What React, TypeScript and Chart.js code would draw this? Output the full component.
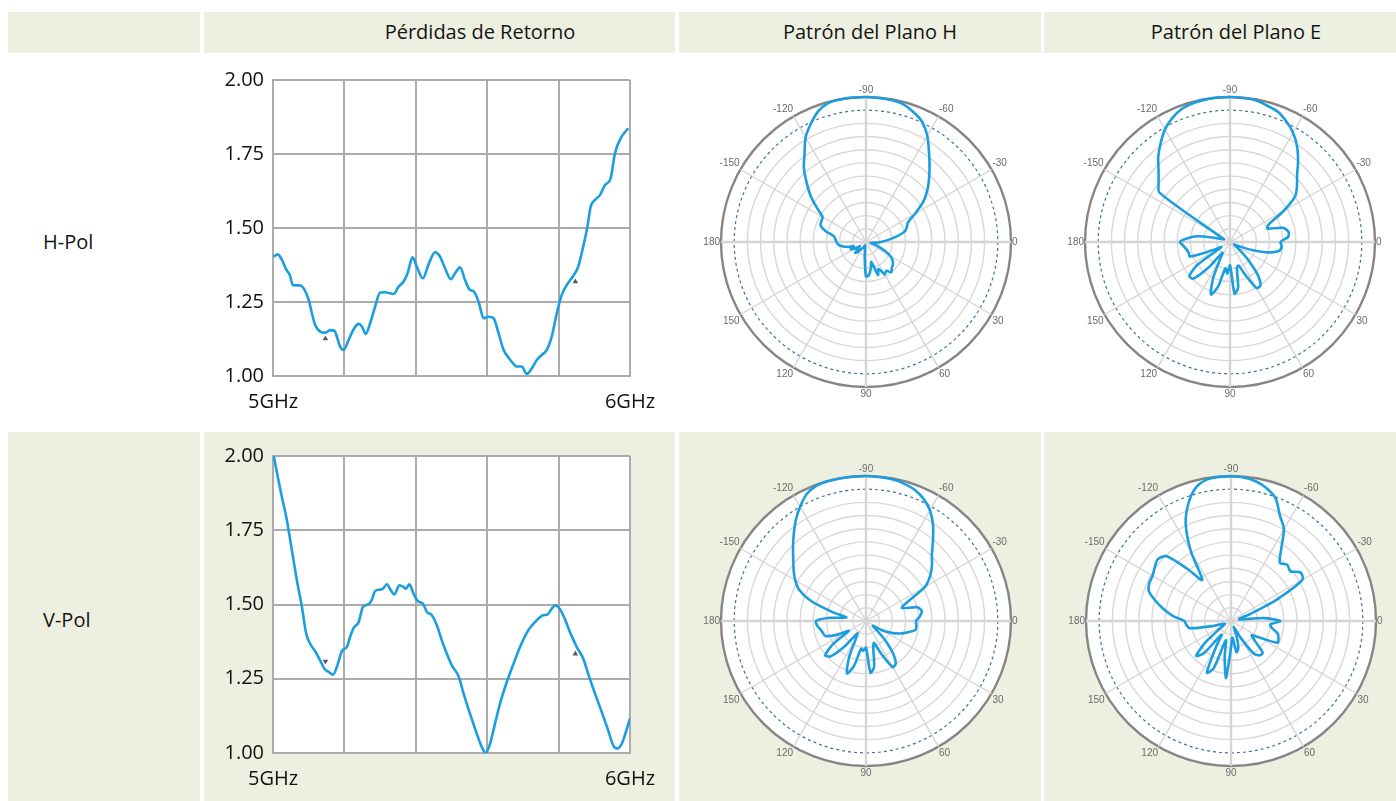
import React, { useEffect, useRef } from 'react';
import { Chart, registerables } from 'chart.js';

Chart.register(...registerables);

// ---------- Return loss (VSWR) data ----------
const FREQ_H = [5.002, 5.013, 5.025, 5.037, 5.047, 5.056, 5.076, 5.086, 5.1, 5.109, 5.118, 5.132, 5.146, 5.16, 5.172, 5.179, 5.188, 5.198, 5.212, 5.226, 5.24, 5.249, 5.26, 5.272, 5.286, 5.3, 5.314, 5.338, 5.352, 5.366, 5.377, 5.391, 5.403, 5.42, 5.436, 5.454, 5.468, 5.482, 5.498, 5.51, 5.524, 5.538, 5.55, 5.563, 5.576, 5.59, 5.604, 5.618, 5.632, 5.646, 5.66, 5.674, 5.681, 5.697, 5.711, 5.725, 5.739, 5.753, 5.767, 5.781, 5.795, 5.809, 5.823, 5.841, 5.855, 5.869, 5.881, 5.89, 5.902, 5.916, 5.93, 5.946, 5.958, 5.974, 5.995];
const VSWR_H = [1.403, 1.411, 1.392, 1.36, 1.341, 1.307, 1.306, 1.296, 1.257, 1.212, 1.172, 1.15, 1.146, 1.155, 1.153, 1.133, 1.099, 1.088, 1.122, 1.158, 1.176, 1.167, 1.142, 1.178, 1.234, 1.282, 1.283, 1.277, 1.302, 1.319, 1.347, 1.401, 1.369, 1.33, 1.378, 1.418, 1.403, 1.364, 1.327, 1.347, 1.367, 1.324, 1.293, 1.285, 1.251, 1.195, 1.2, 1.195, 1.144, 1.088, 1.062, 1.041, 1.032, 1.032, 1.007, 1.026, 1.054, 1.071, 1.088, 1.133, 1.212, 1.274, 1.307, 1.338, 1.369, 1.437, 1.505, 1.572, 1.595, 1.611, 1.645, 1.668, 1.752, 1.803, 1.837];

const FREQ_V = [5.002, 5.021, 5.039, 5.053, 5.067, 5.081, 5.093, 5.104, 5.118, 5.132, 5.144, 5.156, 5.168, 5.179, 5.193, 5.207, 5.216, 5.226, 5.24, 5.252, 5.268, 5.277, 5.286, 5.3, 5.308, 5.319, 5.33, 5.34, 5.354, 5.366, 5.372, 5.382, 5.394, 5.405, 5.42, 5.431, 5.445, 5.459, 5.473, 5.487, 5.501, 5.52, 5.534, 5.552, 5.571, 5.585, 5.596, 5.608, 5.622, 5.636, 5.655, 5.674, 5.692, 5.715, 5.734, 5.757, 5.769, 5.781, 5.79, 5.799, 5.813, 5.832, 5.851, 5.869, 5.883, 5.902, 5.921, 5.939, 5.953, 5.965, 5.977, 6.0];
const VSWR_V = [2.0, 1.884, 1.783, 1.682, 1.581, 1.492, 1.402, 1.368, 1.343, 1.312, 1.284, 1.273, 1.264, 1.29, 1.343, 1.357, 1.391, 1.421, 1.441, 1.492, 1.501, 1.516, 1.545, 1.55, 1.553, 1.568, 1.548, 1.534, 1.565, 1.559, 1.553, 1.568, 1.536, 1.512, 1.503, 1.475, 1.464, 1.43, 1.379, 1.334, 1.295, 1.258, 1.2, 1.132, 1.065, 1.02, 1.0, 1.031, 1.099, 1.166, 1.239, 1.301, 1.357, 1.413, 1.441, 1.464, 1.466, 1.486, 1.497, 1.492, 1.464, 1.407, 1.357, 1.318, 1.267, 1.2, 1.138, 1.076, 1.026, 1.015, 1.031, 1.116];

const MARK_H_X = [5.147, 5.847];
const MARK_H_Y = [1.126, 1.319];
const MARK_H_ROT = [0, 0];
const MARK_V_X = [5.147, 5.847];
const MARK_V_Y = [1.309, 1.334];
const MARK_V_ROT = [180, 0];

const FREQ_TICKS = ['5GHz', '6GHz'];
const VSWR_MIN = 1;
const VSWR_MAX = 2;

// ---------- Radiation pattern data (dB, normalized) ----------
const ANGLES = [-90, -85, -80, -75, -70, -65, -60, -55, -50, -45, -40, -35, -30, -25, -20, -15, -10, -5, 0, 5, 10, 15, 20, 25, 30, 35, 40, 45, 50, 55, 60, 65, 70, 75, 80, 85, 90, 95, 100, 105, 110, 115, 120, 125, 130, 135, 140, 145, 150, 155, 160, 165, 170, 175, 180, -175, -170, -165, -160, -155, -150, -145, -140, -135, -130, -125, -120, -115, -110, -105, -100, -95];

const H_POL_H_PLANE = [0, -0.1, -0.2, -0.5, -1.5, -2.8, -5.1, -8.0, -10.5, -12.7, -14.8, -17.1, -20.1, -22.5, -23.1, -23.9, -26.0, -28.1, -29.6, -30.9, -31.9, -31.3, -30.0, -28.3, -26.6, -25.6, -25.0, -24.7, -24.0, -25.0, -24.5, -26.3, -25.0, -28.3, -26.8, -25.4, -25.2, -29.6, -31.9, -32.2, -31.9, -31.6, -31.3, -30.9, -30.1, -29.5, -30.7, -31.3, -30.0, -29.1, -30.1, -28.8, -27.5, -26.6, -26.3, -26.0, -25.6, -23.5, -22.0, -21.8, -21.6, -19.3, -16.5, -13.9, -11.0, -8.6, -5.5, -3.3, -1.3, -0.2, 0, 0];

const H_POL_E_PLANE = [0, -0.1, -0.2, -0.8, -1.4, -2.7, -4.3, -6.4, -8.9, -11.4, -13.1, -14.9, -19.0, -23.1, -24.0, -20.5, -19.5, -19.7, -21.5, -21.2, -21.6, -23.9, -27.7, -30.7, -31.9, -31.5, -30.0, -26.9, -23.1, -20.9, -20.9, -24.7, -27.3, -26.9, -22.4, -21.2, -27.7, -25.8, -26.9, -22.4, -20.3, -23.9, -28.5, -30.0, -25.4, -21.2, -20.9, -23.9, -30.7, -28.5, -23.3, -23.3, -23.0, -22.4, -21.6, -23.3, -25.4, -29.2, -31.1, -31.5, -30.0, -13.4, -11.8, -10.0, -7.6, -5.5, -3.4, -1.9, -0.8, -0.3, -0.1, 0];

const V_POL_H_PLANE = [0, -0.1, -0.2, -0.5, -1.1, -2.2, -3.9, -6.4, -9.3, -11.8, -13.4, -15.2, -17.5, -22.4, -24.3, -20.9, -20.1, -20.7, -21.6, -21.5, -21.5, -23.1, -24.7, -26.6, -28.8, -31.1, -30.0, -26.9, -23.5, -21.2, -20.9, -24.7, -27.7, -26.6, -22.4, -21.2, -26.9, -26.2, -26.6, -22.4, -20.3, -23.9, -28.5, -29.6, -25.4, -21.6, -20.9, -23.9, -28.5, -25.4, -23.1, -22.8, -22.4, -21.8, -21.6, -24.7, -28.5, -25.0, -19.7, -16.2, -14.4, -12.9, -11.4, -9.5, -7.4, -5.1, -3.0, -1.1, -0.2, 0, 0, 0];

const V_POL_E_PLANE = [-0.1, -0.2, -0.7, -1.7, -3.3, -6.6, -8.9, -13.1, -15.7, -14.9, -15.4, -13.7, -14.2, -21.6, -28.5, -31.1, -31.1, -25.4, -21.8, -24.0, -23.5, -22.0, -21.5, -21.3, -25.4, -27.3, -25.8, -22.8, -22.8, -23.9, -28.5, -31.5, -29.2, -26.6, -25.8, -29.2, -26.9, -20.0, -24.7, -28.5, -21.6, -20.0, -26.2, -29.2, -23.5, -21.8, -25.4, -29.6, -31.1, -31.5, -31.1, -28.5, -23.5, -22.8, -22.4, -19.7, -17.4, -15.2, -13.1, -12.5, -12.4, -11.8, -11.2, -12.1, -17.4, -21.6, -14.8, -8.6, -4.6, -1.7, -0.4, -0.1];

const DB_MIN = -33;
const DB_MAX = 0;
const DB_STEP = 3;
const HALF_POWER = -3;

// ---------- Styles ----------
const BLUE = '#1a9ee0';
const GRID = '#ababab';
const CELL_BG = '#edf0e0';
const FONT = '"Open Sans", "Noto Sans", sans-serif';

const whiteArea = {
  id: 'whiteArea',
  beforeDraw(chart: any) {
    const { ctx, chartArea } = chart;
    ctx.save();
    ctx.fillStyle = '#ffffff';
    ctx.fillRect(chartArea.left, chartArea.top, chartArea.right - chartArea.left, chartArea.bottom - chartArea.top);
    ctx.restore();
  },
};

const whiteDisc = {
  id: 'whiteDisc',
  beforeDraw(chart: any) {
    const s = chart.scales.r;
    const ctx = chart.ctx;
    ctx.save();
    ctx.fillStyle = '#ffffff';
    ctx.beginPath();
    ctx.arc(s.xCenter, s.yCenter, s.drawingArea, 0, Math.PI * 2);
    ctx.fill();
    ctx.restore();
  },
};

type LineProps = {
  left: number; top: number; width: number; height: number;
  freq: number[]; vswr: number[];
  markX: number[]; markY: number[]; markRot: number[];
};

function ReturnLossChart(p: LineProps) {
  const ref = useRef<HTMLCanvasElement>(null);
  useEffect(() => {
    const tickFont = { family: FONT, size: 20 };
    const chart = new Chart(ref.current as HTMLCanvasElement, {
      type: 'line',
      data: {
        datasets: [
          {
            data: p.freq.map((f, i) => ({ x: f, y: p.vswr[i] })),
            borderColor: BLUE,
            borderWidth: 2.6,
            pointRadius: 0,
            fill: false,
            cubicInterpolationMode: 'monotone',
            order: 2,
          } as any,
          {
            data: p.markX.map((x, i) => ({ x, y: p.markY[i] })),
            showLine: false,
            pointStyle: 'triangle',
            pointRadius: 3.2,
            pointRotation: p.markRot,
            pointBackgroundColor: '#5a5a5a',
            pointBorderColor: '#5a5a5a',
            pointBorderWidth: 0,
            order: 1,
          } as any,
        ],
      },
      options: {
        responsive: false,
        animation: false,
        devicePixelRatio: 1,
        layout: { padding: { top: 14, right: 30, left: 0, bottom: 0 } },
        plugins: { legend: { display: false }, tooltip: { enabled: false } },
        scales: {
          x: {
            type: 'linear',
            min: 5,
            max: 6,
            ticks: {
              stepSize: 0.2,
              autoSkip: false,
              maxRotation: 0,
              padding: 14,
              color: '#111',
              font: tickFont,
              callback: (v: any) => {
                const n = Number(v);
                if (Math.abs(n - 5) < 1e-6) return FREQ_TICKS[0];
                if (Math.abs(n - 6) < 1e-6) return FREQ_TICKS[1];
                return '';
              },
            },
            grid: { color: GRID, lineWidth: 2, drawTicks: false },
            border: { color: GRID, width: 2 },
            afterFit: (s: any) => { s.height = 40; },
          },
          y: {
            min: VSWR_MIN,
            max: VSWR_MAX,
            ticks: {
              stepSize: 0.25,
              padding: 9,
              color: '#111',
              font: tickFont,
              callback: (v: any) => Number(v).toFixed(2),
            },
            grid: { color: GRID, lineWidth: 2, drawTicks: false },
            border: { color: GRID, width: 2 },
            afterFit: (s: any) => { s.width = 63; },
          },
        },
      } as any,
      plugins: [whiteArea],
    });
    return () => chart.destroy();
  }, []);
  return (
    <canvas
      ref={ref}
      width={p.width}
      height={p.height}
      style={{ position: 'absolute', left: p.left, top: p.top, width: p.width, height: p.height, display: 'block' }}
    />
  );
}

const PW = 356;
const PH = 316;

function PatternChart({ cx, cy, values }: { cx: number; cy: number; values: number[] }) {
  const ref = useRef<HTMLCanvasElement>(null);
  useEffect(() => {
    const chart = new Chart(ref.current as HTMLCanvasElement, {
      type: 'radar',
      data: {
        labels: ANGLES,
        datasets: [
          {
            data: values,
            borderColor: BLUE,
            borderWidth: 2.6,
            pointRadius: 0,
            fill: false,
            tension: 0.25,
          },
        ],
      },
      options: {
        responsive: false,
        animation: false,
        devicePixelRatio: 1,
        layout: { padding: 0 },
        plugins: { legend: { display: false }, tooltip: { enabled: false } },
        scales: {
          r: {
            min: DB_MIN,
            max: DB_MAX,
            startAngle: 0,
            ticks: { display: false, stepSize: DB_STEP },
            grid: {
              circular: true,
              color: (c: any) => {
                const v = c.tick ? c.tick.value : null;
                if (v === DB_MAX) return '#858585';
                if (v === HALF_POWER) return '#3f7396';
                return '#d8d8d8';
              },
              lineWidth: (c: any) => {
                const v = c.tick ? c.tick.value : null;
                if (v === DB_MAX) return 2.4;
                if (v === HALF_POWER) return 1.2;
                return 1.4;
              },
            },
            border: {
              dash: (c: any) => (c.tick && c.tick.value === HALF_POWER ? [3, 3] : []),
            },
            angleLines: {
              color: '#d4d4d4',
              lineWidth: (c: any) => {
                const a = ANGLES[c.index];
                if (a % 90 === 0) return 2.4;
                if (a % 30 === 0) return 1.4;
                return 0;
              },
            },
            pointLabels: {
              padding: 1,
              color: '#6a6a6a',
              font: { family: '"Liberation Sans", Arial, sans-serif', size: 10 },
              callback: (l: any) => (Number(l) % 30 === 0 ? String(l) : ''),
            },
          },
        },
      } as any,
      plugins: [whiteDisc],
    });
    return () => chart.destroy();
  }, []);
  const left = Math.round(cx - PW / 2);
  const top = Math.round(cy - PH / 2);
  return (
    <canvas
      ref={ref}
      width={PW}
      height={PH}
      style={{ position: 'absolute', left, top, width: PW, height: PH, display: 'block' }}
    />
  );
}

const COLS: [number, number][] = [[8, 200], [204, 675], [679, 1041], [1044, 1396]];

function Cell({ x0, x1, y0, y1 }: { x0: number; x1: number; y0: number; y1: number }) {
  return <div style={{ position: 'absolute', left: x0, top: y0, width: x1 - x0, height: y1 - y0, background: CELL_BG }} />;
}

function Label({ x, y, text, center }: { x: number; y: number; text: string; center?: boolean }) {
  return (
    <div
      style={{
        position: 'absolute',
        left: x,
        top: y - 15,
        height: 30,
        lineHeight: '30px',
        fontFamily: FONT,
        fontSize: 20,
        color: '#141414',
        whiteSpace: 'nowrap',
        transform: center ? 'translateX(-50%)' : undefined,
      }}
    >
      {text}
    </div>
  );
}

export default function App() {
  return (
    <div style={{ position: 'absolute', left: 0, top: 0, width: 1396, height: 801, overflow: 'hidden', background: '#fff' }}>
      {COLS.map(([a, b], i) => <Cell key={'h' + i} x0={a} x1={b} y0={12} y1={53} />)}
      {COLS.map(([a, b], i) => <Cell key={'r' + i} x0={a} x1={b} y0={432} y1={801} />)}

      <Label x={480} y={32} text="Pérdidas de Retorno" center />
      <Label x={870} y={32} text="Patrón del Plano H" center />
      <Label x={1236} y={32} text="Patrón del Plano E" center />
      <Label x={43} y={242} text="H-Pol" />
      <Label x={43} y={620} text="V-Pol" />

      <ReturnLossChart left={210} top={59} width={459} height={357} freq={FREQ_H} vswr={VSWR_H} markX={MARK_H_X} markY={MARK_H_Y} markRot={MARK_H_ROT} />
      <ReturnLossChart left={210} top={435} width={459} height={358} freq={FREQ_V} vswr={VSWR_V} markX={MARK_V_X} markY={MARK_V_Y} markRot={MARK_V_ROT} />

      <PatternChart cx={866} cy={242} values={H_POL_H_PLANE} />
      <PatternChart cx={1230} cy={242} values={H_POL_E_PLANE} />
      <PatternChart cx={866} cy={621} values={V_POL_H_PLANE} />
      <PatternChart cx={1231} cy={621} values={V_POL_E_PLANE} />
    </div>
  );
}
